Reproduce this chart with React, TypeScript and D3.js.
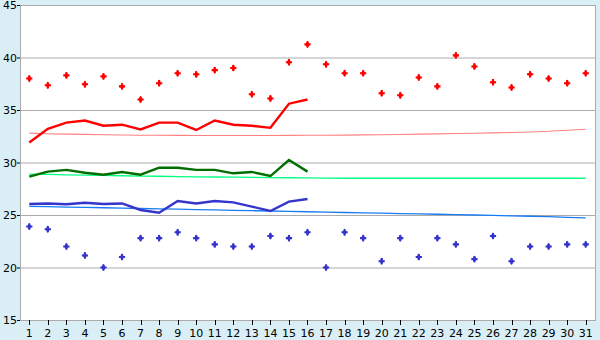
import React from "react";
import * as d3 from "d3";

const days: string[] = Array.from({ length: 31 }, (_, i) => String(i + 1));
const yTicks: number[] = [15, 20, 25, 30, 35, 40, 45];

const redPoints: number[] = [38.0, 37.35, 38.3, 37.45, 38.2, 37.25, 36.0, 37.55, 38.5, 38.4, 38.8, 39.0, 36.5, 36.1, 39.55, 41.25, 39.35, 38.5, 38.5, 36.6, 36.4, 38.1, 37.25, 40.2, 39.15, 37.65, 37.15, 38.4, 38.0, 37.55, 38.5];
const bluePoints: number[] = [23.9, 23.65, 22.0, 21.15, 20.0, 21.0, 22.8, 22.8, 23.35, 22.8, 22.2, 22.0, 22.0, 23.0, 22.8, 23.35, 20.0, 23.35, 22.8, 20.6, 22.8, 21.0, 22.8, 22.2, 20.8, 23.0, 20.6, 22.0, 22.0, 22.2, 22.2];

const redLine: number[] = [31.9, 33.2, 33.8, 34.0, 33.5, 33.6, 33.15, 33.8, 33.8, 33.1, 34.0, 33.6, 33.5, 33.3, 35.6, 36.0];
const greenLine: number[] = [28.65, 29.13, 29.3, 29.03, 28.84, 29.1, 28.84, 29.5, 29.5, 29.3, 29.3, 28.97, 29.1, 28.71, 30.24, 29.13];
const blueLine: number[] = [26.05, 26.1, 26.02, 26.17, 26.05, 26.1, 25.48, 25.22, 26.33, 26.1, 26.33, 26.2, 25.8, 25.38, 26.27, 26.52];

const redTrend: number[] = [32.8, 32.74, 32.7, 32.68, 32.65, 32.62, 32.6, 32.59, 32.58, 32.57, 32.57, 32.57, 32.57, 32.57, 32.58, 32.59, 32.6, 32.61, 32.63, 32.64, 32.67, 32.7, 32.73, 32.76, 32.79, 32.82, 32.86, 32.91, 32.97, 33.07, 33.16];
const greenTrend: number[] = [28.9, 28.86, 28.83, 28.8, 28.77, 28.74, 28.71, 28.69, 28.66, 28.64, 28.62, 28.6, 28.58, 28.56, 28.55, 28.53, 28.51, 28.5, 28.5, 28.5, 28.5, 28.5, 28.5, 28.5, 28.5, 28.5, 28.5, 28.5, 28.5, 28.5, 28.5];
const blueTrend: number[] = [25.82, 25.79, 25.75, 25.72, 25.69, 25.66, 25.62, 25.58, 25.55, 25.52, 25.48, 25.44, 25.41, 25.38, 25.34, 25.31, 25.28, 25.24, 25.21, 25.18, 25.14, 25.11, 25.07, 25.03, 25.0, 24.96, 24.92, 24.88, 24.84, 24.78, 24.73];

const W = 600;
const H = 340;
const L = 20;
const R = 595;
const T = 5;
const B = 320;

export default function App() {
  const x = d3.scaleBand<string>().domain(days).range([L, R]);
  const cx = (i: number) => (x(days[i]) as number) + x.bandwidth() / 2;
  const y = d3.scaleLinear().domain([15, 45]).range([B, T]);
  const line = d3
    .line<number>()
    .x((_, i) => cx(i))
    .y((v) => y(v));
  const cross = d3.symbol().type(d3.symbolCross).size(11)() as string;
  const diamond = d3.symbol().type(d3.symbolDiamond).size(16)() as string;
  const font = "DejaVu Sans, Verdana, sans-serif";

  const series = [
    { data: redTrend, color: "#ff8080", w: 1.1 },
    { data: greenTrend, color: "#00ff80", w: 1.3 },
    { data: blueTrend, color: "#1a7cf5", w: 1.3 },
    { data: redLine, color: "#ff0000", w: 2.4 },
    { data: greenLine, color: "#006e00", w: 2.4 },
    { data: blueLine, color: "#3535cc", w: 2.4 },
  ];

  const marker = (v: number, i: number, color: string, key: string) => (
    <g key={key} transform={`translate(${cx(i)},${y(v)})`} fill={color}>
      <path d={cross} transform="scale(1.4,1.4)" />
      <path d={diamond} />
    </g>
  );

  return (
    <svg
      width={W}
      height={H}
      style={{ position: "absolute", left: 0, top: 0, display: "block" }}
      fontFamily={font}
    >
      <rect x={0} y={0} width={W} height={H} fill="#d9eef5" />
      <rect x={L} y={T} width={R - L} height={B - T} fill="#ffffff" />
      {yTicks.map((t) => (
        <g key={t}>
          <line x1={L} x2={R} y1={y(t) + 0.5} y2={y(t) + 0.5} stroke="#ababab" strokeWidth={1} />
          <line x1={L - 3} x2={L} y1={y(t) + 0.5} y2={y(t) + 0.5} stroke="#000" strokeWidth={1} />
          <text x={L - 3} y={y(t) + 4} textAnchor="end" fontSize={11} fill="#000">
            {t}
          </text>
        </g>
      ))}
      <line x1={L + 0.5} x2={L + 0.5} y1={T} y2={B} stroke="#ababab" />
      <line x1={R + 0.5} x2={R + 0.5} y1={T} y2={B + 1} stroke="#ababab" />
      {days.map((d, i) => (
        <g key={d}>
          <line x1={Math.round(cx(i)) + 0.5} x2={Math.round(cx(i)) + 0.5} y1={B} y2={B + 5} stroke="#000" />
          <text x={cx(i)} y={B + 17} textAnchor="middle" fontSize={11} fill="#000">
            {d}
          </text>
        </g>
      ))}
      {series.map((s, k) => (
        <path key={k} d={line(s.data) as string} fill="none" stroke={s.color} strokeWidth={s.w} />
      ))}
      {redPoints.map((v, i) => marker(v, i, "#ff0000", "r" + i))}
      {bluePoints.map((v, i) => marker(v, i, "#3535cc", "b" + i))}
    </svg>
  );
}
